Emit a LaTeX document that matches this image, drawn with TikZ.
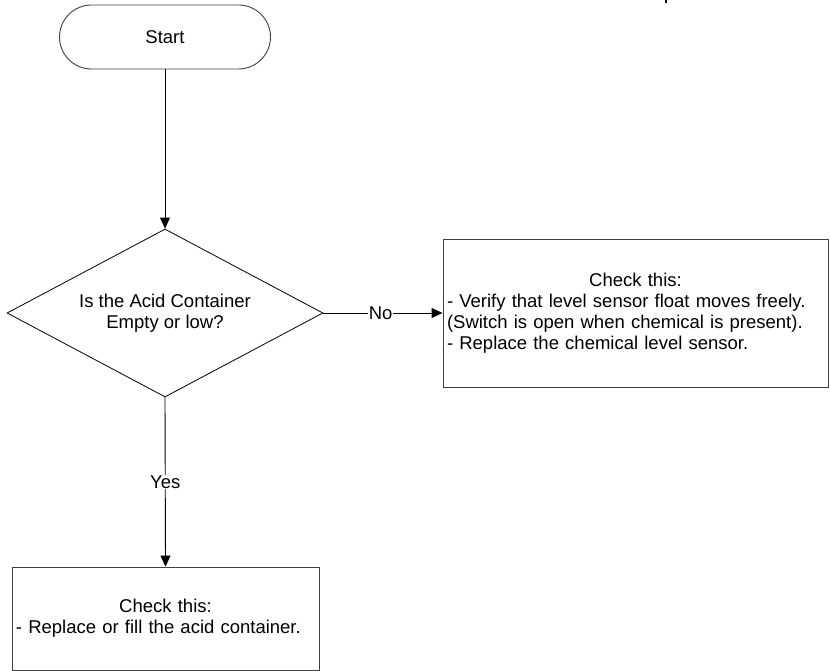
\documentclass[tikz,border=0pt]{standalone}
\usepackage{fontspec}
\setmainfont{Liberation Sans}
\usepackage{tikz}
\usetikzlibrary{shapes.geometric,arrows.meta}

\begin{document}
\begin{tikzpicture}[x=1pt,y=-1pt,font=\fontsize{18.5}{21}\selectfont]
\tikzstyle{block} = [rectangle, draw=black!75, line width=0.9pt, inner sep=4pt, align=left]
\tikzstyle{term} = [rectangle, draw=black!75, line width=0.9pt, rounded corners=32pt, minimum width=211pt, minimum height=64pt]
\tikzstyle{decision} = [diamond, draw=black, line width=0.8pt, aspect=1.88, inner sep=0pt, minimum width=316pt, minimum height=168pt, align=center]
\tikzstyle{arrow} = [line width=0.9pt,-{Triangle[length=11pt,width=10pt]}]
\tikzstyle{lbl} = [fill=white, inner sep=1pt]

\useasboundingbox (0,0) rectangle (830,671);

\node (start) [term] at (165,37) {Start};
\node (check) [decision] at (165,313) {Is the Acid Container\\Empty or low?};
\node (nobox) [block, text width=377pt, minimum height=148pt] at (635.5,313)
  {\makebox[\linewidth][c]{Check this:}\\
   - Verify that level sensor float moves freely.\\
   (Switch is open when chemical is present).\\
   - Replace the chemical level sensor.};
\node (yesbox) [block, text width=299pt, minimum height=103pt] at (165.5,618.5)
  {\makebox[\linewidth][c]{Check this:}\\
   - Replace or fill the acid container.};

% fragment at the top edge
\coordinate (tipa) at (666,0);
\coordinate (tipb) at (666,3);
\draw [line width=1.2pt] (tipa) -- (tipb);

\draw [arrow] (start) -- (check);
\draw [arrow] (check.east) -- node[lbl, pos=0.48] {No} (nobox.west);
\draw [arrow] (check.south) -- node[lbl, pos=0.5] {Yes} (yesbox.north);

\end{tikzpicture}
\end{document}
